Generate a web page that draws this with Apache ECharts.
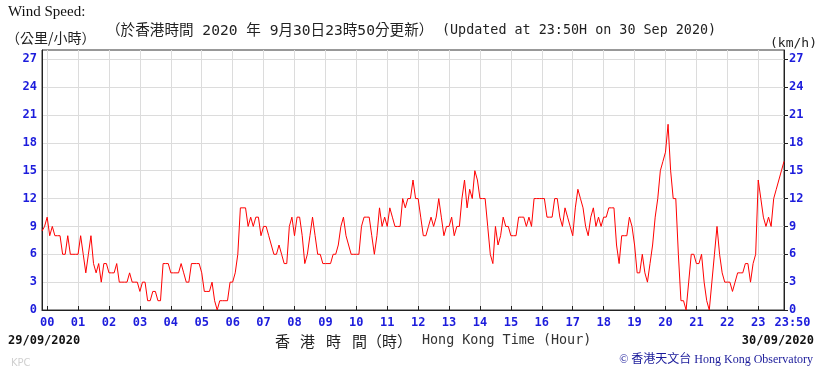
<!DOCTYPE html>
<html>
<head>
<meta charset="utf-8">
<script src="https://cdn.jsdelivr.net/npm/echarts@6/dist/echarts.min.js"></script>
<style>
html,body{margin:0;padding:0;background:#fff;}
#chart{width:820px;height:369px;}
</style>
</head>
<body>
<div id="chart"></div>
<script>
// 10-minute mean wind speed (km/h), sampled every 5 minutes, from 29/09 23:50 (-10 min) to 30/09 23:50 (1430 min)
const startMinute = -10;
const stepMinutes = 5;
const speedKmh = [
  8.5, 9,
  10, 8, 9, 8, 8, 8, 6, 6, 8, 6, 6, 6,          // 00h
  6, 8, 6, 4, 6, 8, 5, 4, 5, 3, 5, 5,           // 01h
  4, 4, 4, 5, 3, 3, 3, 3, 4, 3, 3, 3,           // 02h
  2, 3, 3, 1, 1, 2, 2, 1, 1, 5, 5, 5,           // 03h
  4, 4, 4, 4, 5, 4, 3, 3, 5, 5, 5, 5,           // 04h
  4, 2, 2, 2, 3, 1, 0, 1, 1, 1, 1, 3,           // 05h
  3, 4, 6, 11, 11, 11, 9, 10, 9, 10, 10, 8,     // 06h
  9, 9, 8, 7, 6, 6, 7, 6, 5, 5, 9, 10,          // 07h
  8, 10, 10, 8, 5, 6, 8, 10, 8, 6, 6, 5,        // 08h
  5, 5, 5, 6, 6, 7, 9, 10, 8, 7, 6, 6,          // 09h
  6, 6, 9, 10, 10, 10, 8, 6, 8, 11, 9, 10,      // 10h
  9, 11, 10, 9, 9, 9, 12, 11, 12, 12, 14, 12,   // 11h
  12, 10, 8, 8, 9, 10, 9, 10, 12, 10, 8, 9,     // 12h
  9, 10, 8, 9, 9, 12, 14, 11, 13, 12, 15, 14,   // 13h
  12, 12, 12, 9, 6, 5, 9, 7, 8, 10, 9, 9,       // 14h
  8, 8, 8, 10, 10, 10, 9, 10, 9, 12, 12, 12,    // 15h
  12, 12, 10, 10, 10, 12, 12, 10, 9, 11, 10, 9, // 16h
  8, 11, 13, 12, 11, 9, 8, 10, 11, 9, 10, 9,    // 17h
  10, 10, 11, 11, 11, 7, 5, 8, 8, 8, 10, 9,     // 18h
  7, 4, 4, 6, 4, 3, 5, 7, 10, 12, 15, 16,       // 19h
  17, 20, 15, 12, 12, 6, 1, 1, 0, 3, 6, 6,      // 20h
  5, 5, 6, 3, 1, 0, 3, 6, 9, 6, 4, 3,           // 21h
  3, 3, 2, 3, 4, 4, 4, 5, 5, 3, 5, 6,           // 22h
  14, 12, 10, 9, 10, 9, 12, 13, 14, 15, 16      // 23h
];
const hourTickMinutes = [0,60,120,180,240,300,360,420,480,540,600,660,720,780,840,900,960,1020,1080,1140,1200,1260,1320,1380,1430];
const hourTickLabels = ['00','01','02','03','04','05','06','07','08','09','10','11','12','13','14','15','16','17','18','19','20','21','22','23','23:50'];
const speedTicks = [0,3,6,9,12,15,18,21,24,27];

const seriesData = speedKmh.map((v, i) => [startMinute + i * stepMinutes, v]);

const blue = '#1c1cdc';
const labelFont = { color: blue, fontFamily: 'DejaVu Sans Mono', fontWeight: 'bold', fontSize: 12 };

const chart = echarts.init(document.getElementById('chart'), null, { renderer: 'canvas' });
chart.setOption({
  animation: false,
  backgroundColor: '#fff',
  grid: { left: 42, right: 36, top: 50, bottom: 59, show: true, borderColor: '#333', borderWidth: 1, containLabel: false },
  xAxis: {
    type: 'value', min: -10, max: 1430,
    axisLine: { show: true, onZero: false, lineStyle: { color: '#222', width: 1 } },
    axisTick: { show: true, inside: true, length: 4, customValues: hourTickMinutes, lineStyle: { color: '#222' } },
    axisLabel: Object.assign({ margin: 7, customValues: hourTickMinutes,
      formatter: v => {
        const s = hourTickLabels[hourTickMinutes.indexOf(v)];
        return v === 1430 ? '{last|' + s + '}' : s;
      },
      rich: { last: { color: blue, fontFamily: 'DejaVu Sans Mono', fontWeight: 'bold', fontSize: 12, padding: [0, 0, 0, 17] } }
    }, labelFont),
    splitLine: { show: true, lineStyle: { color: '#dcdcdc', width: 1 } }
  },
  yAxis: [
    {
      type: 'value', min: 0, max: 28, position: 'left',
      axisLine: { show: true, onZero: false, lineStyle: { color: '#222' } },
      axisTick: { show: false, customValues: speedTicks },
      axisLabel: Object.assign({ margin: 5, customValues: speedTicks }, labelFont),
      splitLine: { show: true, lineStyle: { color: '#dcdcdc', width: 1 } }
    },
    {
      type: 'value', min: 0, max: 28, position: 'right',
      axisLine: { show: true, onZero: false, lineStyle: { color: '#222' } },
      axisTick: { show: true, inside: false, length: 4, customValues: speedTicks, lineStyle: { color: '#222' } },
      axisLabel: Object.assign({ margin: 5, customValues: speedTicks }, labelFont),
      splitLine: { show: false }
    }
  ],
  series: [{
    type: 'line', xAxisIndex: 0, yAxisIndex: 0,
    data: seriesData, showSymbol: false, symbol: 'none',
    lineStyle: { color: '#ff0000', width: 1 }
  }],
  graphic: [
    { type: 'text', x: 8, y: 12, style: { text: 'Wind Speed:', font: '15px "Liberation Serif", "Times New Roman", serif', fill: '#111', verticalAlign: 'middle' } },
    { type: 'text', x: 6, y: 38, style: { text: '（公里/小時）', font: '14px "Noto Sans CJK TC", sans-serif', fill: '#222', verticalAlign: 'middle' } },
    { type: 'text', x: 106, y: 31, style: { text: '（於香港時間 2020 年 9月30日23時50分更新）', font: '14.6px "DejaVu Sans Mono", "Noto Sans CJK TC", monospace', fill: '#222', verticalAlign: 'middle' } },
    { type: 'text', x: 442, y: 31, style: { text: '(Updated at 23:50H on 30 Sep 2020)', font: '13.4px "DejaVu Sans Mono", monospace', fill: '#222', verticalAlign: 'middle' } },
    { type: 'text', x: 770, y: 44, style: { text: '(km/h)', font: '13px "DejaVu Sans Mono", monospace', fill: '#222', verticalAlign: 'middle' } },
    { type: 'text', x: 8, y: 341, style: { text: '29/09/2020', font: 'bold 12px "DejaVu Sans Mono", monospace', fill: '#111', verticalAlign: 'middle' } },
    { type: 'text', x: 275, y: 341, style: { text: '香', font: '15px "Noto Sans CJK TC", sans-serif', fill: '#222', verticalAlign: 'middle' } },
    { type: 'text', x: 300, y: 341, style: { text: '港', font: '15px "Noto Sans CJK TC", sans-serif', fill: '#222', verticalAlign: 'middle' } },
    { type: 'text', x: 326, y: 341, style: { text: '時', font: '15px "Noto Sans CJK TC", sans-serif', fill: '#222', verticalAlign: 'middle' } },
    { type: 'text', x: 352, y: 341, style: { text: '間', font: '15px "Noto Sans CJK TC", sans-serif', fill: '#222', verticalAlign: 'middle' } },
    { type: 'text', x: 367, y: 341, style: { text: '（時）', font: '15px "Noto Sans CJK TC", sans-serif', fill: '#222', verticalAlign: 'middle' } },
    { type: 'text', x: 422, y: 341, style: { text: 'Hong Kong Time (Hour)', font: '13.4px "DejaVu Sans Mono", monospace', fill: '#333', verticalAlign: 'middle' } },
    { type: 'text', x: 814, y: 341, style: { text: '30/09/2020', font: 'bold 12px "DejaVu Sans Mono", monospace', fill: '#111', align: 'right', verticalAlign: 'middle' } },
    { type: 'text', x: 813, y: 360, style: { text: '© 香港天文台 Hong Kong Observatory', font: '12px "Liberation Serif", "Noto Sans CJK TC", serif', fill: '#1a1a9a', align: 'right', verticalAlign: 'middle' } },
    { type: 'text', x: 11, y: 363, style: { text: 'KPC', font: '10px "DejaVu Sans", sans-serif', fill: '#d0d0d0', verticalAlign: 'middle' } }
  ]
});
console.log('points', speedKmh.length);
</script>
</body>
</html>
